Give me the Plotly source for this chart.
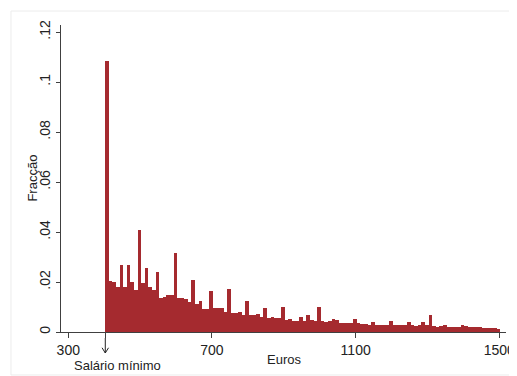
import plotly.graph_objects as go

# Histogram: fraction of workers by wage bin (10-euro bins starting at the minimum wage)
bin_start = 403
bin_width = 10
fractions = [
    0.1085, 0.0204, 0.0200, 0.0180, 0.0270, 0.0180, 0.0270, 0.0200, 0.0170, 0.0410,
    0.0197, 0.0255, 0.0180, 0.0170, 0.0240, 0.0135, 0.0140, 0.0150, 0.0150, 0.0317,
    0.0135, 0.0135, 0.0133, 0.0120, 0.0209, 0.0113, 0.0123, 0.0093, 0.0093, 0.0165,
    0.0095, 0.0095, 0.0095, 0.0081, 0.0173, 0.0075, 0.0075, 0.0080, 0.0067, 0.0123,
    0.0067, 0.0070, 0.0072, 0.0062, 0.0095, 0.0057, 0.0061, 0.0057, 0.0055, 0.0100,
    0.0047, 0.0051, 0.0045, 0.0045, 0.0060, 0.0045, 0.0069, 0.0047, 0.0045, 0.0099,
    0.0045, 0.0039, 0.0044, 0.0053, 0.0048, 0.0035, 0.0035, 0.0035, 0.0035, 0.0053,
    0.0037, 0.0033, 0.0033, 0.0029, 0.0040, 0.0029, 0.0029, 0.0029, 0.0027, 0.0045,
    0.0029, 0.0028, 0.0027, 0.0027, 0.0041, 0.0028, 0.0024, 0.0028, 0.0039, 0.0028,
    0.0068, 0.0024, 0.0021, 0.0025, 0.0028, 0.0021, 0.0021, 0.0021, 0.0021, 0.0029,
    0.0024, 0.0020, 0.0022, 0.0022, 0.0021, 0.0016, 0.0016, 0.0015, 0.0015, 0.0013,
]
bin_centers = [bin_start + bin_width * (i + 0.5) for i in range(len(fractions))]

x_tick_vals = [300, 700, 1100, 1500]
y_tick_vals = [0, 0.02, 0.04, 0.06, 0.08, 0.1, 0.12]
y_tick_text = ["0", ".02", ".04", ".06", ".08", ".1", ".12"]
min_wage = 403

BAR = "#a52a2f"
AXIS = "#404040"
TEXT = "#222222"
FONT = "Liberation Sans, Arial, sans-serif"

fig = go.Figure()
fig.add_trace(go.Bar(
    x=bin_centers, y=fractions, width=bin_width,
    marker=dict(color=BAR, line=dict(width=0)),
    hoverinfo="skip",
))

# page body has an 8px margin, so the figure is 8px smaller and offset
fig.update_layout(
    width=509, height=368,
    margin=dict(l=53, r=11, t=17, b=44, autoexpand=False),
    paper_bgcolor="white", plot_bgcolor="white",
    showlegend=False, bargap=0,
    font=dict(family=FONT, color=TEXT, size=14),
)
fig.update_xaxes(
    range=[279.7, 1518.6], tickvals=x_tick_vals + [min_wage],
    ticktext=[str(v) for v in x_tick_vals] + [""],
    showline=True, linecolor=AXIS, linewidth=1, ticks="outside",
    ticklen=5, tickcolor=AXIS, showgrid=False, zeroline=False, automargin=False,
    tickfont=dict(size=14, family=FONT, color=TEXT),
)
fig.update_yaxes(
    range=[0, 0.1228], tickvals=y_tick_vals, ticktext=y_tick_text,
    tickangle=-90, showline=True, linecolor=AXIS, linewidth=1,
    ticks="outside", ticklen=4, tickcolor=AXIS, showgrid=False, zeroline=False,
    automargin=False,
    tickfont=dict(size=14, family=FONT, color=TEXT),
)

# titles and annotations
fig.add_annotation(text="Fracção", xref="paper", yref="paper", x=-0.065, y=0.5,
                   textangle=-90, showarrow=False, xanchor="center", yanchor="middle",
                   font=dict(size=13, family=FONT, color=TEXT))
fig.add_annotation(text="Euros", xref="paper", yref="paper", x=0.5, y=-0.091,
                   showarrow=False, xanchor="center", yanchor="middle",
                   font=dict(size=13, family=FONT, color=TEXT))
fig.add_annotation(text="Salário mínimo", xref="x", yref="paper", x=436, y=-0.11,
                   showarrow=False, xanchor="center", yanchor="middle",
                   font=dict(size=13, family=FONT, color=TEXT))

# down arrow marking the minimum wage
arrow_top, arrow_tip = -0.0195, -0.0684
fig.add_shape(type="line", xref="x", yref="paper",
              x0=min_wage, x1=min_wage, y0=arrow_top, y1=arrow_tip,
              line=dict(color=TEXT, width=1))
fig.add_shape(type="path", xref="x", yref="paper",
              path=f"M {min_wage - 9},{arrow_tip + 0.017} L {min_wage},{arrow_tip} "
                   f"L {min_wage + 9},{arrow_tip + 0.017}",
              line=dict(color=TEXT, width=1))

# faint outer frame
fig.add_shape(type="rect", xref="paper", yref="paper",
              x0=-0.1124, x1=1.0225, y0=-0.14, y1=1.0456,
              line=dict(color="#ececec", width=1), layer="below")

fig.write_html("out.html")
